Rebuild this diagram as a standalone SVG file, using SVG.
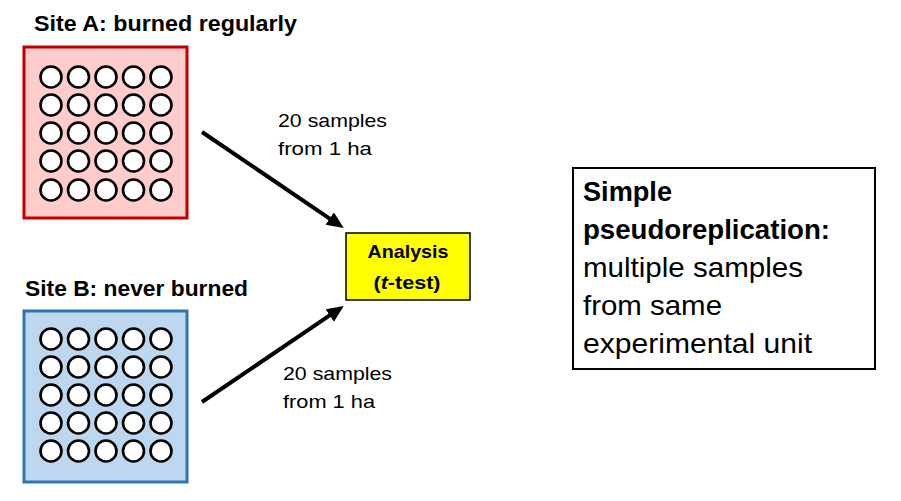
<svg xmlns="http://www.w3.org/2000/svg" width="901" height="501" viewBox="0 0 901 501">
<style>
text{font-family:"Liberation Sans",Arial,sans-serif;fill:#000}
.b{font-weight:bold}
.site{font-size:22px;font-weight:bold}
.lab{font-size:19px}
.big{font-size:28px}
.c{fill:#fff;stroke:#000;stroke-width:2.6}
.arr{stroke:#000;stroke-width:4;fill:none}
</style>
<defs>
<marker id="ah" markerUnits="userSpaceOnUse" markerWidth="18" markerHeight="16" refX="4" refY="7.5" orient="auto">
<path d="M0,0 L17,7.5 L0,15 z" fill="#000"/>
</marker>
<g id="grid">
<circle class="c" cx="0" cy="0" r="10.5"/><circle class="c" cx="27.5" cy="0" r="10.5"/><circle class="c" cx="55" cy="0" r="10.5"/><circle class="c" cx="82.5" cy="0" r="10.5"/><circle class="c" cx="110" cy="0" r="10.5"/>
</g>
</defs>
<rect width="901" height="501" fill="#fff"/>
<g id="siteA">
<text class="site" x="34" y="31" textLength="263" lengthAdjust="spacingAndGlyphs">Site A: burned regularly</text>
<rect x="24" y="47" width="163" height="171" fill="#ffcccc" stroke="#c00000" stroke-width="3"/>
<use href="#grid" x="51" y="77"/>
<use href="#grid" x="51" y="105"/>
<use href="#grid" x="51" y="133"/>
<use href="#grid" x="51" y="161"/>
<use href="#grid" x="51" y="190"/>
</g>
<g id="siteB">
<text class="site" x="25" y="296" textLength="223" lengthAdjust="spacingAndGlyphs">Site B: never burned</text>
<rect x="24" y="311" width="163" height="171" fill="#bdd7ee" stroke="#2e75b6" stroke-width="3"/>
<use href="#grid" x="51" y="339"/>
<use href="#grid" x="51" y="367"/>
<use href="#grid" x="51" y="395"/>
<use href="#grid" x="51" y="423"/>
<use href="#grid" x="51" y="451"/>
</g>
<g id="analysis">
<rect x="346" y="233" width="124" height="67" fill="#ffff00" stroke="#000" stroke-width="1.5"/>
<text class="b" x="408" y="258" font-size="19" text-anchor="middle" textLength="81" lengthAdjust="spacingAndGlyphs">Analysis</text>
<text class="b" x="407" y="289" font-size="19" text-anchor="middle" textLength="67" lengthAdjust="spacingAndGlyphs">(<tspan font-style="italic">t</tspan>-test)</text>
</g>
<g id="note">
<rect x="573" y="168" width="302" height="201" fill="#fff" stroke="#000" stroke-width="2"/>
<text class="big b" x="583" y="201" textLength="89" lengthAdjust="spacingAndGlyphs">Simple</text>
<text class="big b" x="583" y="239" textLength="247" lengthAdjust="spacingAndGlyphs">pseudoreplication:</text>
<text class="big" x="583" y="277" textLength="220" lengthAdjust="spacingAndGlyphs">multiple samples</text>
<text class="big" x="583" y="315" textLength="139" lengthAdjust="spacingAndGlyphs">from same</text>
<text class="big" x="583" y="353" textLength="229" lengthAdjust="spacingAndGlyphs">experimental unit</text>
</g>
<g id="connectors">
<line class="arr" x1="202" y1="132" x2="333" y2="220.8" marker-end="url(#ah)"/>
<line class="arr" x1="202" y1="402" x2="333" y2="313.2" marker-end="url(#ah)"/>
<text class="lab" x="278" y="127" textLength="109" lengthAdjust="spacingAndGlyphs">20 samples</text>
<text class="lab" x="278" y="155" textLength="94" lengthAdjust="spacingAndGlyphs">from 1 ha</text>
<text class="lab" x="283" y="380" textLength="109" lengthAdjust="spacingAndGlyphs">20 samples</text>
<text class="lab" x="283" y="408" textLength="92" lengthAdjust="spacingAndGlyphs">from 1 ha</text>
</g>
</svg>
